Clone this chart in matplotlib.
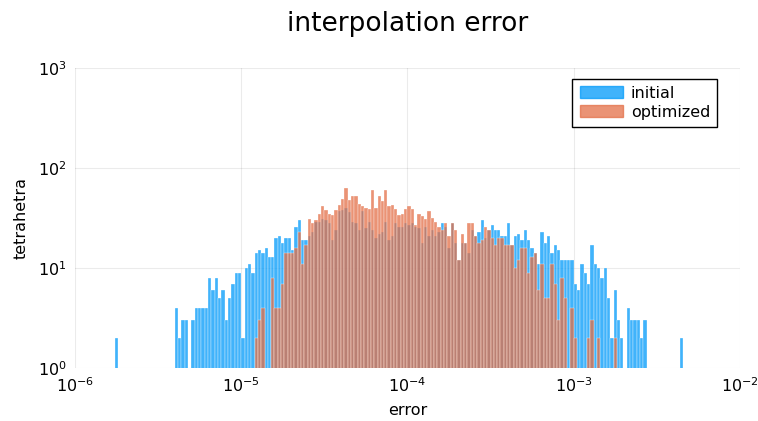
import matplotlib.pyplot as plt
import matplotlib.patches as mpatches
import numpy as np

# histogram bins are 0.02 wide in log10(error)
bin_step = 0.02
log_min = -6.0

# counts per bin; first entry of each list sits in bin init_first / opt_first
init_first = 12
init_counts = [2] + [0] * 17 + [
    4, 2, 3, 3, 0, 3, 4, 4, 4, 4, 8, 6, 8, 5, 6, 3, 5, 7, 9, 9, 2, 10, 11, 9,
    14, 15, 14, 16, 13, 13, 20, 21, 18, 20, 20, 15, 26, 30,
    19, 19, 21, 23, 29, 29, 31, 30, 28,
    19, 24, 37, 38, 40, 36, 29, 28, 24, 37, 25, 29, 24, 20, 22, 23, 29, 19, 21, 28, 26, 26, 28, 27,
    28, 26, 25, 18, 26, 21, 24, 21, 23, 28, 26, 16, 28, 18, 12, 18, 18, 14, 24, 21, 23, 30, 20, 24,
    27, 24, 24, 21, 21, 28, 17, 21, 22, 19, 24, 19, 16, 14, 11, 23, 18, 21, 14, 17, 15, 12, 12, 12,
    12, 7, 6, 11, 9, 7, 17, 11, 10, 8, 10, 5, 2, 6, 3, 2, 0, 4, 3, 3, 3, 2, 3,
] + [0] * 10 + [2]

opt_first = 54
opt_counts = [
    2, 3, 4, 0, 0, 8, 4, 4, 7, 14, 14, 14,
    16, 23, 11, 17, 31, 28, 30, 35, 42, 38, 35,
    34, 38, 43, 49, 63, 48, 52, 52, 44, 42, 40, 39, 60, 40, 53, 47, 61, 42, 43, 39, 34, 35, 39, 42,
    39, 27, 35, 33, 31, 37, 32, 29, 26, 24, 28, 21, 28, 24, 12, 22, 18, 28, 28, 21, 18, 19, 26, 24,
    20, 17, 20, 20, 17, 17, 17, 10, 12, 16, 16, 9, 13, 14, 6, 11, 5, 5, 11, 7, 3, 8, 5, 0, 4,
    2, 0, 0, 0, 2, 3, 0, 2, 0, 0, 0, 0, 2,
]

series_names = ["initial", "optimized"]
colors = ["#009AFA", "#E36F47"]


def bars(ax, first, counts, color):
    counts = np.array(counts, dtype=float)
    k = first + np.arange(len(counts))
    left = 10.0 ** (log_min + bin_step * k)
    right = 10.0 ** (log_min + bin_step * (k + 1))
    keep = counts > 0
    ax.bar(left[keep], counts[keep], width=(right - left)[keep], align="edge",
           color=color, alpha=0.75, edgecolor=(1, 1, 1, 0.2), linewidth=0.3)


fig = plt.figure(figsize=(7.58, 4.21), dpi=100)
ax = fig.add_axes([0.099, 0.126, 0.877, 0.712])

bars(ax, init_first, init_counts, colors[0])
bars(ax, opt_first, opt_counts, colors[1])

ax.set_xscale("log")
ax.set_yscale("log")
ax.set_xlim(1e-6, 1e-2)
ax.set_ylim(1, 1e3)
ax.minorticks_off()
ax.set_xticks([1e-6, 1e-5, 1e-4, 1e-3, 1e-2])
ax.set_yticks([1, 10, 100, 1000])
ax.tick_params(labelsize=11.5, length=0, pad=6)
ax.grid(True, color="black", alpha=0.08, linewidth=0.8)
ax.set_axisbelow(True)
for s in ax.spines.values():
    s.set_visible(False)

ax.set_title("interpolation error", fontsize=19, pad=27)
ax.set_xlabel("error", fontsize=11.5, labelpad=6)
ax.set_ylabel("tetrahetra", fontsize=11.5, labelpad=7)

handles = [mpatches.Patch(color=c, alpha=0.75) for c in colors]
leg = ax.legend(handles, series_names, loc="upper right", bbox_to_anchor=(0.966, 0.965),
                borderaxespad=0, fancybox=False, edgecolor="black", framealpha=1,
                fontsize=11.5, handlelength=2.7, handleheight=0.8, handletextpad=0.5,
                labelspacing=0.25, borderpad=0.45)
leg.get_frame().set_linewidth(1.0)

fig.savefig("out.png", dpi=100)
